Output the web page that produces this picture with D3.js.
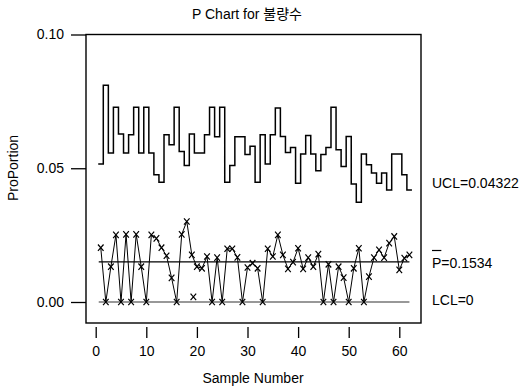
<!DOCTYPE html>
<html>
<head>
<meta charset="utf-8">
<script src="https://cdn.jsdelivr.net/npm/d3@7"></script>
<style>
  html, body { margin: 0; padding: 0; background: #fff; }
  svg { display: block; font-family: "Liberation Sans", Arial, "Noto Sans CJK KR", sans-serif; }
</style>
</head>
<body>
<div id="chart"></div>
<script>
// sample numbers 1..62
const samples = d3.range(1, 63);

// proportion defective per sample
const proportions = [
  0.0203, 0, 0.0132, 0.0251, 0, 0.0253, 0, 0.0253, 0.0132, 0,
  0.0251, 0.0238, 0.0203, 0.0173, 0.0090, 0, 0.0253, 0.0301, 0.0176, 0.0132,
  0.0126, 0.0170, 0, 0.0166, 0, 0.0199, 0.0199, 0.0167, 0, 0.0129,
  0.0145, 0.0126, 0, 0.0199, 0.0170, 0.0251, 0.0176, 0.0124, 0.0149, 0.0201,
  0.0124, 0.0166, 0.0132, 0.0179, 0, 0.0141, 0, 0.0132, 0.0091, 0,
  0.0126, 0.0201, 0, 0.0095, 0.0166, 0.0195, 0.0166, 0.0220, 0.0245, 0.0120,
  0.0164, 0.0176
];

// upper control limit per sample (varies with sample size)
const ucl = [
  0.0516, 0.0810, 0.0557, 0.0728, 0.0628, 0.0557, 0.0625, 0.0728, 0.0557, 0.0728,
  0.0557, 0.0476, 0.0448, 0.0625, 0.0588, 0.0728, 0.0563, 0.0510, 0.0628, 0.0557,
  0.0557, 0.0625, 0.0728, 0.0618, 0.0728, 0.0448, 0.0510, 0.0618, 0.0618, 0.0551,
  0.0582, 0.0448, 0.0625, 0.0516, 0.0625, 0.0725, 0.0619, 0.0559, 0.0578, 0.0444,
  0.0553, 0.0622, 0.0553, 0.0491, 0.0551, 0.0578, 0.0728, 0.0569, 0.0507, 0.0619,
  0.0441, 0.0373, 0.0553, 0.0513, 0.0482, 0.0444, 0.0482, 0.0419, 0.0553, 0.0553,
  0.0476, 0.0419
];

// stray point plotted without a connecting line
const strayPoints = [{ sample: 19.3, p: 0.0019 }];

const pBar = 0.015;
const lcl = 0;

const xTicks = [0, 10, 20, 30, 40, 50, 60];
const yTicks = [0, 0.05, 0.10];

const title = "P Chart for 불량수";
const xLabel = "Sample Number";
const yLabel = "ProPortion";
const uclLabel = "UCL=0.04322";
const pBarLabel = "P=0.1534";
const lclLabel = "LCL=0";

const width = 524, height = 388;
const frame = { left: 86, right: 421, top: 34.5, bottom: 323 };

const svg = d3.select("#chart").append("svg")
  .attr("width", width)
  .attr("height", height);

const x = d3.scaleLinear().domain([0, 60]).range([95.7, 399.3]);
const y = d3.scaleLinear().domain([0, 0.10]).range([302, 34.5]);

// plot frame
svg.append("rect")
  .attr("x", frame.left)
  .attr("y", frame.top)
  .attr("width", frame.right - frame.left)
  .attr("height", frame.bottom - frame.top)
  .attr("fill", "none")
  .attr("stroke", "#000")
  .attr("stroke-width", 1.4);

// y axis
const yAxis = svg.append("g")
  .attr("transform", "translate(" + frame.left + ",0)")
  .call(d3.axisLeft(y).tickValues(yTicks).tickFormat(d3.format(".2f")).tickSize(15).tickPadding(7));
yAxis.select(".domain").remove();
yAxis.selectAll("line").attr("stroke-width", 1.3);
yAxis.selectAll("text").attr("font-size", 14).attr("font-family", null).attr("fill", "#000");

// x axis (ticks below the frame, no baseline)
const xAxis = svg.append("g")
  .attr("transform", "translate(0,327)")
  .call(d3.axisBottom(x).tickValues(xTicks).tickSize(11).tickPadding(8));
xAxis.select(".domain").remove();
xAxis.selectAll("line").attr("stroke-width", 1.3);
xAxis.selectAll("text").attr("font-size", 14).attr("font-family", null).attr("fill", "#000");

// UCL step line
const uclPts = samples.map((s, i) => [s - 0.5, ucl[i]]);
uclPts.push([samples[samples.length - 1] + 0.5, ucl[ucl.length - 1]]);
svg.append("path")
  .datum(uclPts)
  .attr("fill", "none")
  .attr("stroke", "#000")
  .attr("stroke-width", 1.5)
  .attr("d", d3.line().x(d => x(d[0])).y(d => y(d[1])).curve(d3.curveStepAfter));

// center line and LCL
svg.append("line")
  .attr("x1", x(0.6)).attr("x2", x(62))
  .attr("y1", y(pBar)).attr("y2", y(pBar))
  .attr("stroke", "#000").attr("stroke-width", 1.3);
svg.append("line")
  .attr("x1", x(0.6)).attr("x2", x(62))
  .attr("y1", y(lcl)).attr("y2", y(lcl))
  .attr("stroke", "#333").attr("stroke-width", 1.2);

// data line
svg.append("path")
  .datum(samples.map((s, i) => [s, proportions[i]]))
  .attr("fill", "none")
  .attr("stroke", "#000")
  .attr("stroke-width", 1)
  .attr("d", d3.line().x(d => x(d[0])).y(d => y(d[1])));

// x markers
const cross = "M-2.8,-3.2L2.8,3.2M-2.8,3.2L2.8,-3.2";
const allMarks = samples.map((s, i) => ({ sample: s, p: proportions[i] })).concat(strayPoints);
svg.append("g").selectAll("path")
  .data(allMarks)
  .enter()
  .append("path")
  .attr("transform", d => "translate(" + x(d.sample) + "," + y(d.p) + ")")
  .attr("d", cross)
  .attr("fill", "none")
  .attr("stroke", "#000")
  .attr("stroke-width", 1.2);

// title and axis labels
svg.append("text")
  .attr("x", 247).attr("y", 19)
  .attr("text-anchor", "middle")
  .attr("font-size", 14)
  .text(title);

svg.append("text")
  .attr("x", 253).attr("y", 383)
  .attr("text-anchor", "middle")
  .attr("font-size", 14)
  .text(xLabel);

svg.append("text")
  .attr("transform", "translate(18,168) rotate(-90)")
  .attr("text-anchor", "middle")
  .attr("font-size", 14)
  .text(yLabel);

// limit labels on the right
svg.append("text").attr("x", 432).attr("y", 188).attr("font-size", 14).text(uclLabel);
const pText = svg.append("text").attr("x", 432).attr("y", 268).attr("font-size", 14).text(pBarLabel);
const pWidth = pText.node().getSubStringLength(0, 1);
svg.append("line")
  .attr("x1", 432).attr("x2", 432 + pWidth)
  .attr("y1", 250.5).attr("y2", 250.5)
  .attr("stroke", "#000").attr("stroke-width", 1.2);
svg.append("text").attr("x", 432).attr("y", 305).attr("font-size", 14).text(lclLabel);
</script>
</body>
</html>
